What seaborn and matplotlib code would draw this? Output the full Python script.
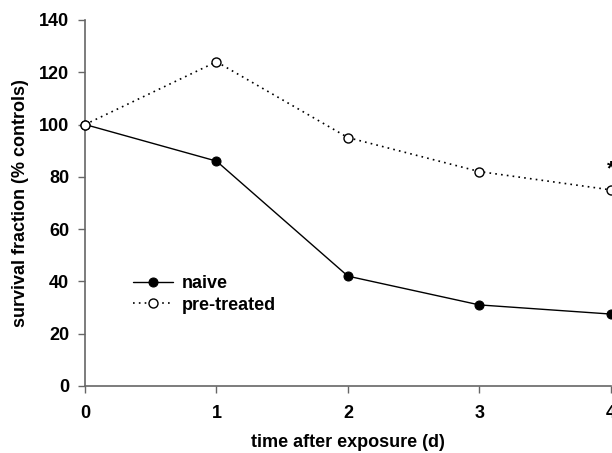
import pandas as pd
import matplotlib
matplotlib.use("Agg")
import matplotlib.pyplot as plt
import seaborn as sns

# data
days = [0, 1, 2, 3, 4]
naive = [100, 86, 42, 31, 27.5]
pre_treated = [100, 124, 95, 82, 75]
y_ticks = [0, 20, 40, 60, 80, 100, 120, 140]

sns.set_style("ticks")
plt.rcParams['font.family'] = ['Liberation Sans', 'DejaVu Sans']
plt.rcParams['font.weight'] = 'bold'
plt.rcParams['text.color'] = 'black'
plt.rcParams['axes.labelcolor'] = 'black'

df_naive = pd.DataFrame({'day': days, 'value': naive})
df_pre = pd.DataFrame({'day': days, 'value': pre_treated})

fig = plt.figure(figsize=(6.12, 4.53), dpi=100)
ax = fig.add_axes([0.139, 0.148, 0.859, 0.808])

sns.lineplot(data=df_naive, x='day', y='value', ax=ax, color='black',
             linewidth=1.0, marker='o', markersize=6.5, markerfacecolor='black',
             markeredgecolor='black', label='naive', clip_on=False, zorder=3)
sns.lineplot(data=df_pre, x='day', y='value', ax=ax, color='black',
             linewidth=1.2, linestyle=(0, (1, 2.5)), marker='o', markersize=6.5,
             markerfacecolor='white', markeredgecolor='black', markeredgewidth=1,
             label='pre-treated', clip_on=False, zorder=3)

ax.set_xlim(0, 4)
ax.set_ylim(0, 140)
ax.set_xticks(days)
ax.set_yticks(y_ticks)
ax.tick_params(axis='both', labelsize=13, color='#666666', labelcolor='black', length=5, width=1)
ax.tick_params(axis='x', pad=8.5)
ax.tick_params(axis='y', pad=6.5)
for lab in ax.get_xticklabels() + ax.get_yticklabels():
    lab.set_fontweight('bold')
for s in ['top', 'right']:
    ax.spines[s].set_visible(False)
for s in ['left', 'bottom']:
    ax.spines[s].set_color('#666666')
    ax.spines[s].set_linewidth(1.2)

ax.set_xlabel('time after exposure (d)', fontsize=13, fontweight='bold', labelpad=9)
ax.set_ylabel('survival fraction (% controls)', fontsize=13, fontweight='bold', labelpad=7)

# significance mark at day 4
ax.text(4, 83, '*', fontsize=15, fontweight='bold', ha='center', va='center', clip_on=False)

leg = ax.legend(loc='center left', bbox_to_anchor=(0.091, 0.25), frameon=False,
                prop={'weight': 'bold', 'size': 13}, handlelength=2.2,
                handletextpad=0.5, labelspacing=0.25, borderpad=0, borderaxespad=0)

fig.savefig('out.png', dpi=100)
